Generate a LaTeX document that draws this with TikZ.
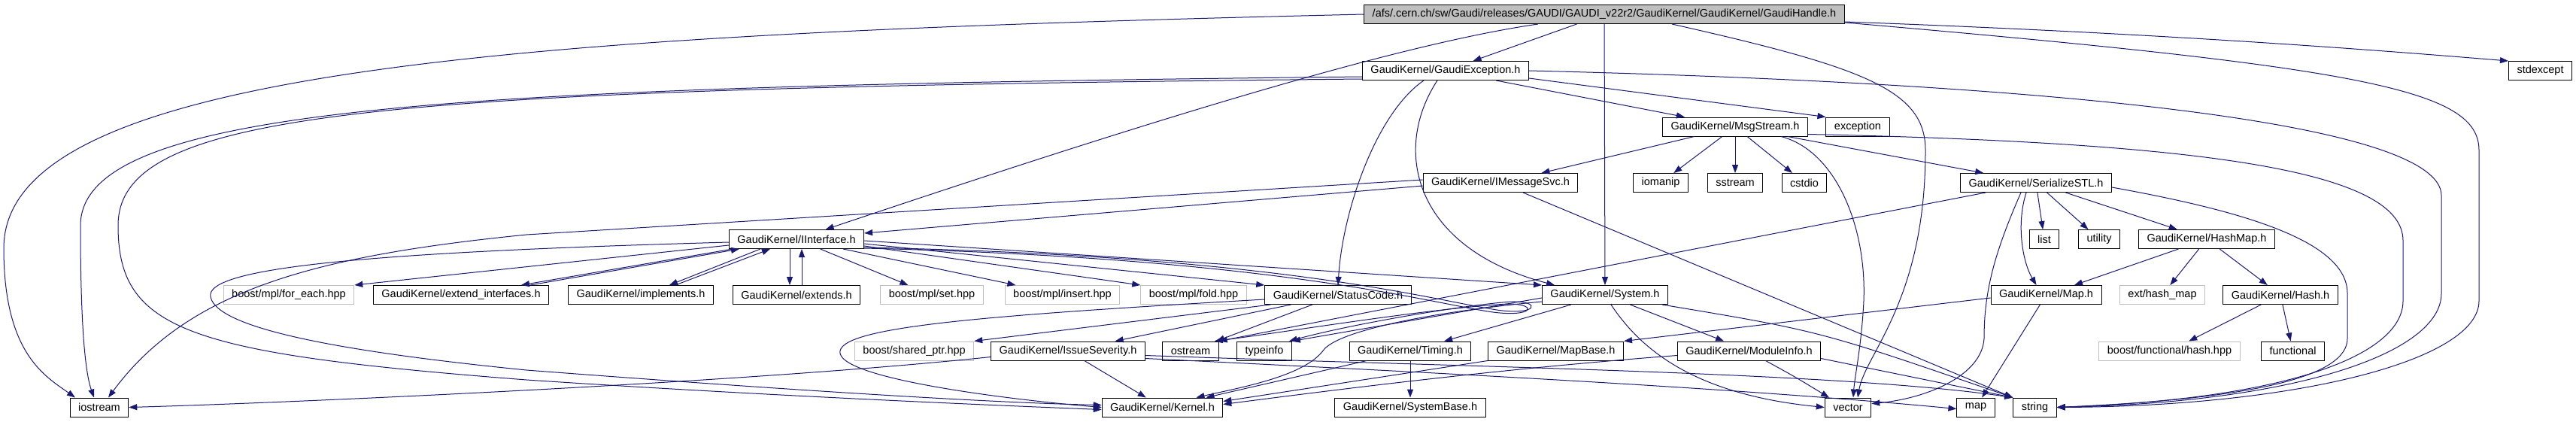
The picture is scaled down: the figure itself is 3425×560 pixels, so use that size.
\documentclass[tikz,border=0pt]{standalone}
\usepackage{fontspec}
\setmainfont{Liberation Sans}
\usetikzlibrary{arrows.meta}
\definecolor{edgeblue}{HTML}{191970}
\definecolor{boxgray}{HTML}{BFBFBF}
\tikzset{
	file/.style={draw=black, line width=1pt, minimum height=25pt, inner xsep=11pt, inner ysep=0pt, font=\fontsize{14.5}{17}\selectfont},
	extfile/.style={file, draw=boxgray},
	rootfile/.style={file, fill=boxgray},
	dep/.style={draw=edgeblue, line width=1pt, -{Triangle[length=11pt,width=8pt]}}
}

\begin{document}
\begin{tikzpicture}[x=1pt, y=-1pt]
	\useasboundingbox (0,0) rectangle (3425,560);

	\node[rootfile] (root) at (2133,19) {/afs/.cern.ch/sw/Gaudi/releases/GAUDI/GAUDI\_v22r2/GaudiKernel/GaudiKernel/GaudiHandle.h};

	\node[file] (exc) at (1922,94) {GaudiKernel/GaudiException.h};
	\node[file] (stdexcept) at (3377.5,94) {stdexcept};

	\node[file] (msg) at (2307,168.5) {GaudiKernel/MsgStream.h};
	\node[file] (exception) at (2470,168.5) {exception};

	\node[file] (imsg) at (1995,243) {GaudiKernel/IMessageSvc.h};
	\node[file] (iomanip) at (2208,243) {iomanip};
	\node[file] (sstream) at (2307,243) {sstream};
	\node[file] (cstdio) at (2399,243) {cstdio};
	\node[file] (sstl) at (2707,243) {GaudiKernel/SerializeSTL.h};

	\node[file] (iint) at (1059,318) {GaudiKernel/IInterface.h};
	\node[file] (list) at (2718,318) {list};
	\node[file] (utility) at (2791,318) {utility};
	\node[file] (hashmap) at (2934,318) {GaudiKernel/HashMap.h};

	\node[extfile] (foreach) at (384,392) {boost/mpl/for\_each.hpp};
	\node[file] (extif) at (613,392) {GaudiKernel/extend\_interfaces.h};
	\node[file] (impl) at (852,392) {GaudiKernel/implements.h};
	\node[file] (extends) at (1059,392) {GaudiKernel/extends.h};
	\node[extfile] (mplset) at (1239,392) {boost/mpl/set.hpp};
	\node[extfile] (mplins) at (1412.5,392) {boost/mpl/insert.hpp};
	\node[extfile] (mplfold) at (1587,392) {boost/mpl/fold.hpp};
	\node[file] (status) at (1779,392) {GaudiKernel/StatusCode.h};
	\node[file] (system) at (2134,392) {GaudiKernel/System.h};
	\node[file] (mapH) at (2720.5,392) {GaudiKernel/Map.h};
	\node[extfile] (hashext) at (2875,392) {ext/hash\_map};
	\node[file] (hash) at (3032,392) {GaudiKernel/Hash.h};

	\node[extfile] (shptr) at (1215.6,466.5) {boost/shared\_ptr.hpp};
	\node[file] (issue) at (1420,466.5) {GaudiKernel/IssueSeverity.h};
	\node[file] (ostream) at (1583,466.5) {ostream};
	\node[file] (typeinfo) at (1681,466.5) {typeinfo};
	\node[file] (timing) at (1875,466.5) {GaudiKernel/Timing.h};
	\node[file] (mapbase) at (2068.5,466.5) {GaudiKernel/MapBase.h};
	\node[file] (modinfo) at (2325.5,466.5) {GaudiKernel/ModuleInfo.h};
	\node[extfile] (fhash) at (2884.5,466.5) {boost/functional/hash.hpp};
	\node[file] (functional) at (3048.5,466.5) {functional};

	\node[file] (iostream) at (132,541.5) {iostream};
	\node[file] (kernel) at (1545.5,541.5) {GaudiKernel/Kernel.h};
	\node[file] (sysbase) at (1875,541.5) {GaudiKernel/SystemBase.h};
	\node[file] (vector) at (2457,541.5) {vector};
	\node[file] (map) at (2627,541.5) {map};
	\node[file] (string) at (2705.5,541.5) {string};

	\draw[dep] (root) -- (exc);
	\draw[dep] ([xshift=-88pt]root.south) .. controls (1850,60) and (1500,170) .. (iint);
	\draw[dep] (root) -- (system);
	\draw[dep] (root.west) .. controls (700,45) and (5,90) .. (5,330) .. controls (5,470) and (60,500) .. ([xshift=-32pt]iostream.north);
	\draw[dep] ([xshift=90pt]root.south) .. controls (2480,90) and (2560,120) .. (2560,200) .. controls (2560,400) and (2480,470) .. ([xshift=13pt]vector.north);
	\draw[dep] ([yshift=-10pt]root.east) .. controls (2900,45) and (3200,70) .. (stdexcept.north west);
	\draw[dep] ([yshift=-11pt]root.east) .. controls (3150,90) and (3296,120) .. (3296,200) -- (3296,400) .. controls (3296,480) and (3050,540) .. (string.east);

	\draw[dep] (exc) -- (msg);
	\draw[dep] ([yshift=-10pt]exc.east) -- (exception.north west);
	\draw[dep] ([xshift=-29pt]exc.south) .. controls (1830,150) and (1785,280) .. (status.north);
	\draw[dep] ([xshift=-11pt]exc.south) .. controls (1850,200) and (1880,330) .. ([xshift=-67pt]system.north);
	\draw[dep] (exc.east) .. controls (2700,110) and (3246,160) .. (3246,260) -- (3246,390) .. controls (3246,470) and (3050,535) .. (string.east);
	\draw[dep] ([yshift=-8pt]exc.west) .. controls (600,115) and (107,140) .. (107,300) .. controls (107,450) and (115,500) .. ([xshift=-7pt]iostream.north);
	\draw[dep] ([yshift=-11pt]exc.west) .. controls (500,118) and (157,145) .. (157,300) .. controls (157,440) and (250,470) .. (700,505) .. controls (1000,525) and (1300,538) .. ([yshift=-3pt]kernel.west);

	\draw[dep] (msg) -- (imsg);
	\draw[dep] (msg) -- (iomanip);
	\draw[dep] (msg) -- (sstream);
	\draw[dep] (msg) -- (cstdio);
	\draw[dep] (msg) -- (sstl);
	\draw[dep] ([xshift=61pt]msg.south) .. controls (2440,200) and (2482,300) .. (2478,400) .. controls (2475,460) and (2466,500) .. ([xshift=7pt]vector.north);
	\draw[dep] ([yshift=-10pt]msg.east) .. controls (2950,190) and (3195,230) .. (3195,320) -- (3195,400) .. controls (3195,470) and (3050,530) .. (string.east);

	\draw[dep] ([yshift=-4pt]imsg.west) -- ([yshift=8pt]iint.east);
	\draw[dep] ([yshift=4pt]imsg.west) -- (700,312) .. controls (420,340) and (250,385) .. ([xshift=12pt]iostream.north);
	\draw[dep] ([xshift=30pt]imsg.south) -- (string.north west);

	\draw[dep] (sstl) -- (list);
	\draw[dep] (sstl) -- (utility);
	\draw[dep] (sstl) -- (hashmap);
	\draw[dep] ([xshift=-13pt]sstl.south) .. controls (2680,300) and (2690,350) .. ([xshift=-13pt]mapH.north);
	\draw[dep] ([xshift=-20pt]sstl.south) .. controls (2650,340) and (2638,390) .. (2638,450) .. controls (2635,500) and (2560,530) .. ([yshift=5pt]vector.east);
	\draw[dep] (sstl) -- (ostream.north east);
	\draw[dep] ([yshift=-6pt]sstl.east) .. controls (2980,280) and (3121,320) .. (3121,390) -- (3121,450) .. controls (3121,500) and (3000,530) .. (string.east);

	\draw[dep] (hashmap) -- (mapH);
	\draw[dep] (hashmap) -- (hashext);
	\draw[dep] (hashmap) -- (hash);
	\draw[dep] (hash) -- (fhash);
	\draw[dep] (hash) -- (functional);
	\draw[dep] ([yshift=-4pt]mapH.west) -- (mapbase.north east);
	\draw[dep] (mapH) -- (map);

	\draw[dep] ([yshift=-8pt]iint.west) -- (foreach.north east);
	\draw[dep] ([xshift=-85pt]iint.south) -- ([xshift=80pt]extif.north);
	\draw[dep] ([xshift=92pt]extif.north) -- ([xshift=-76pt]iint.south);
	\draw[dep] ([xshift=-48pt]iint.south) -- ([xshift=38pt]impl.north);
	\draw[dep] ([xshift=46pt]impl.north) -- ([xshift=-35pt]iint.south);
	\draw[dep] ([xshift=-9pt]iint.south) -- ([xshift=-9pt]extends.north);
	\draw[dep] ([xshift=7pt]extends.north) -- ([xshift=7pt]iint.south);
	\draw[dep] (iint) -- (mplset);
	\draw[dep] (iint) -- (mplins);
	\draw[dep] ([yshift=-9pt]iint.east) -- (mplfold.north west);
	\draw[dep] ([yshift=-6pt]iint.east) -- (status.north west);
	\draw[dep] ([yshift=-2pt]iint.east) -- (system.north west);
	\draw[dep] ([yshift=-11pt]iint.east) .. controls (1700,340) and (1900,398) .. (1990,412) .. controls (2045,420) and (2050,400) .. (2010,401) .. controls (1950,405) and (1800,430) .. ([xshift=-4pt]typeinfo.north east);
	\draw[dep] ([yshift=-12pt]iint.east) .. controls (1700,343) and (1900,403) .. (1985,415) .. controls (2040,422) and (2045,404) .. (2005,404) .. controls (1900,410) and (1720,440) .. ([xshift=-6pt]ostream.north east);
	\draw[dep] ([yshift=-4pt]iint.west) .. controls (500,335) and (270,355) .. (280,395) .. controls (290,440) and (480,470) .. (700,492) .. controls (1000,515) and (1300,535) .. ([yshift=3pt]kernel.west);

	\draw[dep] (status) -- (issue);
	\draw[dep] (status) -- (ostream);
	\draw[dep] ([xshift=8pt]status.south west) -- (shptr.north east);
	\draw[dep] ([yshift=-6pt]status.west) .. controls (1300,420) and (1110,435) .. (1117,470) .. controls (1125,505) and (1350,532) .. (kernel.west);

	\draw[dep] (issue) -- (kernel);
	\draw[dep] ([yshift=-8pt]issue.west) .. controls (1000,508) and (400,535) .. (iostream.east);
	\draw[dep] ([yshift=-10pt]issue.east) .. controls (1900,495) and (2300,515) .. ([yshift=-2pt]map.west);
	\draw[dep] ([yshift=-6pt]issue.east) .. controls (1950,488) and (2450,495) .. (string.north west);

	\draw[dep] ([yshift=-9pt]system.west) .. controls (1900,415) and (1780,440) .. (1760,465) .. controls (1735,500) and (1650,515) .. ([xshift=45pt]kernel.north);
	\draw[dep] ([yshift=-4pt]system.west) -- (typeinfo.north east);
	\draw[dep] (system) -- (timing);
	\draw[dep] (system) -- (modinfo);
	\draw[dep] ([xshift=8pt]system.south) .. controls (2185,470) and (2260,525) .. (vector.west);
	\draw[dep] ([xshift=-8pt]system.south east) .. controls (2420,440) .. (string.north west);

	\draw[dep] (timing) -- (sysbase);
	\draw[dep] ([xshift=-58pt]timing.south) -- ([xshift=58pt]kernel.north);
	\draw[dep] (mapbase.south west) -- ([yshift=8pt]kernel.east);
	\draw[dep] ([yshift=-6pt]modinfo.west) .. controls (2000,490) and (1800,515) .. ([yshift=4pt]kernel.east);
	\draw[dep] ([xshift=22pt]modinfo.south) .. controls (2385,500) .. ([xshift=-25pt]vector.north);
	\draw[dep] ([yshift=-10pt]modinfo.east) -- (string.north west);

\end{tikzpicture}
\end{document}
